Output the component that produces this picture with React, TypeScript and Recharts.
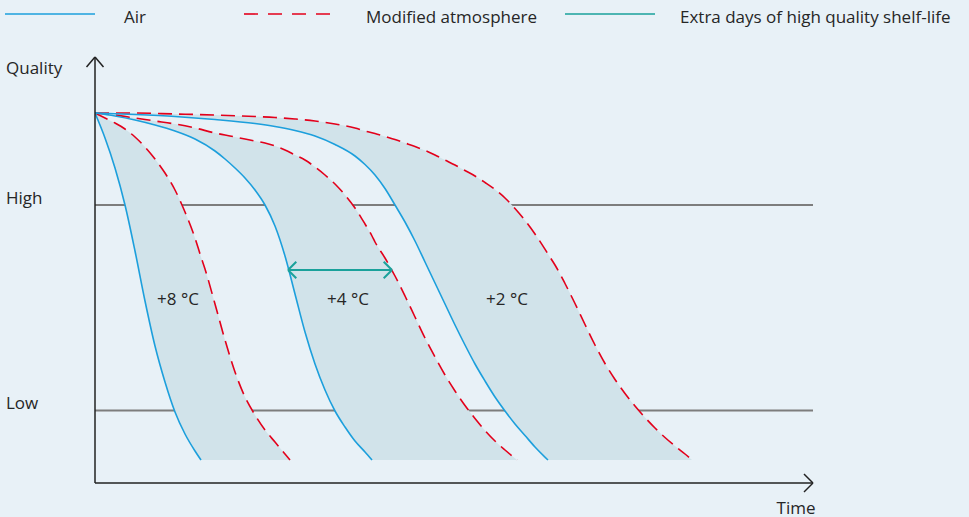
import {
  ComposedChart,
  Area,
  Line,
  XAxis,
  YAxis,
  CartesianGrid,
  ReferenceLine,
  ReferenceDot,
  Legend,
} from 'recharts';

// Axes in arbitrary units: time 0..71.8, quality 0..42.6
const TIME_MAX = 71.8;
const QUALITY_MAX = 42.6;
const BOTTOM = 2.3; // every curve stops at this quality
const QUALITY_TICKS = [7.25, 27.8];
const QUALITY_TICK_LABELS = ['Low', 'High'];

// +8 °C
const T8 = [0, 1, 2, 3, 4, 5, 6, 7, 8, 9, 10, 10.6, 11, 12, 13, 14, 15, 16, 17, 18, 19, 19.5];
const AIR8 = [37.0, 34.5, 31.5, 27.8, 23.2, 18.2, 13.7, 10.1, 7.1, 4.9, 3.2, 2.3,
  null, null, null, null, null, null, null, null, null, null];
const MA8 = [37.0, 36.5, 36.0, 35.4, 34.6, 33.6, 32.4, 31.0, 29.3, 27.1, 24.5, 22.6,
  21.4, 17.9, 14.3, 11.1, 8.6, 6.8, 5.3, 4.1, 2.9, 2.3];

// +4 °C
const T4 = [0, 2, 4, 6, 8, 10, 12, 13, 14, 15, 16, 17, 18, 19, 20, 21, 22, 23, 24, 25, 26, 27, 27.7,
  28, 29, 30, 31, 32, 33, 34, 35, 36, 37, 38, 39, 40, 41, 42.2];
const AIR4 = [37.0, 36.7, 36.3, 35.8, 35.2, 34.4, 33.2, 32.4, 31.5, 30.5, 29.3, 27.8, 25.7, 22.7,
  18.9, 15.1, 11.9, 9.3, 7.2, 5.6, 4.2, 3.1, 2.3,
  null, null, null, null, null, null, null, null, null, null, null, null, null, null, null];
const MA4 = [37.0, 36.8, 36.5, 36.2, 35.9, 35.5, 35.0, 34.8, 34.6, 34.4, 34.2, 34.0, 33.7, 33.3,
  32.8, 32.3, 31.6, 30.8, 29.9, 28.8, 27.5, 25.9, 24.7,
  24.1, 22.5, 20.7, 18.7, 16.6, 14.5, 12.6, 10.8, 9.2, 7.75, 6.45, 5.25, 4.2, 3.3, 2.3];

// +2 °C
const T2 = [0, 4, 8, 12, 16, 18, 20, 22, 24, 26, 27, 28, 29, 30, 31, 32, 33, 34, 35, 36, 37, 38,
  39, 40, 41, 42, 43, 44, 45.3, 46, 47, 48, 49, 50, 51, 52, 53, 54, 55, 56, 57, 58, 59, 59.7];
const AIR2 = [37.0, 36.85, 36.65, 36.35, 35.95, 35.65, 35.25, 34.7, 33.85, 32.7, 31.85, 30.8, 29.45,
  27.8, 26.1, 24.2, 22.1, 20.0, 17.9, 15.8, 13.8, 11.9, 10.2, 8.6, 7.2, 5.9, 4.75, 3.6, 2.3,
  null, null, null, null, null, null, null, null, null, null, null, null, null, null, null, null];
const MA2 = [37.0, 37.0, 36.9, 36.8, 36.65, 36.55, 36.4, 36.2, 35.9, 35.5, 35.2, 34.95, 34.65,
  34.35, 34.0, 33.65, 33.25, 32.8, 32.3, 31.8, 31.25, 30.7, 30.05, 29.35, 28.5, 27.45, 26.25, 24.9,
  22.9, 21.8, 19.95, 17.95, 15.85, 13.8, 11.95, 10.35, 8.95, 7.7, 6.55, 5.5, 4.55, 3.7, 2.9, 2.3];

const TEMPERATURES = ['+8 °C', '+4 °C', '+2 °C'];
const TEMP_LABEL_T = [8.3, 25.3, 41.2];
const TEMP_LABEL_Q = 18.5;

// extra days of high quality shelf-life at +4 °C
const EXTRA_FROM = 19.3;
const EXTRA_TO = 29.7;
const EXTRA_Q = 21.3;

const COLORS = {
  bg: '#e8f1f7',
  shade: '#d1e3ea',
  air: '#1c9fdc',
  ma: '#e3001b',
  extra: '#1aa19b',
  grid: '#7d7d7d',
  axis: '#222222',
  text: '#262626',
};

const FONT = '"Open Sans", sans-serif';
const FONT_SIZE = 17;

type Row = { t: number; air: number | null; ma: number };

function buildRows(t: number[], air: (number | null)[], ma: number[]): Row[] {
  return t.map((x, i) => ({ t: x, air: air[i], ma: ma[i] }));
}

const SERIES = [
  buildRows(T8, AIR8, MA8),
  buildRows(T4, AIR4, MA4),
  buildRows(T2, AIR2, MA2),
];

// shaded band: from the Air curve (or the bottom once it ends) up to the MA curve
const band = (row: Row) => [row.air ?? BOTTOM, row.ma];

function segment(key: string, a: [number, number], b: [number, number], stroke: string, width: number) {
  return (
    <ReferenceLine
      key={key}
      segment={[{ x: a[0], y: a[1] }, { x: b[0], y: b[1] }]}
      stroke={stroke}
      strokeWidth={width}
      ifOverflow="visible"
    />
  );
}

function textAt(key: string, t: number, q: number, value: string, anchor: 'start' | 'middle' = 'middle') {
  return (
    <ReferenceDot
      key={key}
      x={t}
      y={q}
      r={0}
      ifOverflow="visible"
      shape={(p: any) => (
        <text
          x={p.cx}
          y={p.cy}
          textAnchor={anchor}
          dominantBaseline="central"
          fill={COLORS.text}
          fontFamily={FONT}
          fontSize={FONT_SIZE}
        >
          {value}
        </text>
      )}
    />
  );
}

function QualityTick({ y, payload }: any) {
  const i = QUALITY_TICKS.indexOf(payload.value);
  return (
    <text
      x={6}
      y={y - 8}
      textAnchor="start"
      dominantBaseline="central"
      fill={COLORS.text}
      fontFamily={FONT}
      fontSize={FONT_SIZE}
    >
      {QUALITY_TICK_LABELS[i]}
    </text>
  );
}

function LegendRow() {
  const txt = { fill: COLORS.text, fontFamily: FONT, fontSize: FONT_SIZE, dominantBaseline: 'central' as const };
  return (
    <svg width={969} height={32}>
      <line x1={5} x2={95} y1={14} y2={14} stroke={COLORS.air} strokeWidth={1.6} />
      <text x={124} y={16} {...txt}>Air</text>
      <line x1={244} x2={333} y1={14} y2={14} stroke={COLORS.ma} strokeWidth={1.6} strokeDasharray="14 10" />
      <text x={366} y={16} {...txt}>Modified atmosphere</text>
      <line x1={565} x2={655} y1={14} y2={14} stroke={COLORS.extra} strokeWidth={1.6} />
      <text x={680} y={16} {...txt}>Extra days of high quality shelf-life</text>
    </svg>
  );
}

export default function App() {
  return (
    <div style={{ width: 969, height: 517, background: COLORS.bg, fontFamily: FONT }}>
      <style>{'body{margin:0}'}</style>
      <ComposedChart width={969} height={517} margin={{ top: 57, right: 156, bottom: 0, left: 0 }}>
        <CartesianGrid vertical={false} syncWithTicks stroke={COLORS.grid} strokeWidth={2} />
        <XAxis
          type="number"
          dataKey="t"
          domain={[0, TIME_MAX]}
          allowDataOverflow
          tick={false}
          tickLine={false}
          height={34}
          axisLine={{ stroke: COLORS.axis, strokeWidth: 1.5 }}
        />
        <YAxis
          type="number"
          domain={[0, QUALITY_MAX]}
          allowDataOverflow
          ticks={QUALITY_TICKS}
          tick={<QualityTick />}
          tickLine={false}
          width={95}
          axisLine={{ stroke: COLORS.axis, strokeWidth: 1.5 }}
        />
        <Legend
          layout="vertical"
          verticalAlign="middle"
          align="center"
          wrapperStyle={{ top: 0, left: 0, width: 969 }}
          content={() => <LegendRow />}
        />

        {SERIES.map((rows, i) => (
          <Area
            key={`band-${i}`}
            data={rows}
            dataKey={band}
            type="monotone"
            stroke="none"
            fill={COLORS.shade}
            fillOpacity={1}
            isAnimationActive={false}
            legendType="none"
          />
        ))}
        {SERIES.map((rows, i) => (
          <Line
            key={`ma-${i}`}
            data={rows}
            dataKey="ma"
            type="monotone"
            stroke={COLORS.ma}
            strokeWidth={1.6}
            strokeDasharray="14 7"
            dot={false}
            activeDot={false}
            isAnimationActive={false}
            legendType="none"
          />
        ))}
        {SERIES.map((rows, i) => (
          <Line
            key={`air-${i}`}
            data={rows}
            dataKey="air"
            type="monotone"
            stroke={COLORS.air}
            strokeWidth={1.6}
            dot={false}
            activeDot={false}
            isAnimationActive={false}
            legendType="none"
          />
        ))}

        {/* extra days arrow */}
        {segment('extra', [EXTRA_FROM, EXTRA_Q], [EXTRA_TO, EXTRA_Q], COLORS.extra, 2)}
        {segment('extra-l1', [EXTRA_FROM, EXTRA_Q], [EXTRA_FROM + 0.83, EXTRA_Q + 0.83], COLORS.extra, 2)}
        {segment('extra-l2', [EXTRA_FROM, EXTRA_Q], [EXTRA_FROM + 0.83, EXTRA_Q - 0.83], COLORS.extra, 2)}
        {segment('extra-r1', [EXTRA_TO, EXTRA_Q], [EXTRA_TO - 0.83, EXTRA_Q + 0.83], COLORS.extra, 2)}
        {segment('extra-r2', [EXTRA_TO, EXTRA_Q], [EXTRA_TO - 0.83, EXTRA_Q - 0.83], COLORS.extra, 2)}

        {/* axis arrowheads */}
        {segment('y-l', [0, QUALITY_MAX], [-0.85, QUALITY_MAX - 1.0], COLORS.axis, 1.5)}
        {segment('y-r', [0, QUALITY_MAX], [0.85, QUALITY_MAX - 1.0], COLORS.axis, 1.5)}
        {segment('x-u', [TIME_MAX, 0], [TIME_MAX - 0.9, 0.9], COLORS.axis, 1.5)}
        {segment('x-d', [TIME_MAX, 0], [TIME_MAX - 0.9, -0.9], COLORS.axis, 1.5)}

        {TEMPERATURES.map((label, i) => textAt(`temp-${i}`, TEMP_LABEL_T[i], TEMP_LABEL_Q, label))}
        {textAt('quality', -8.9, 41.6, 'Quality', 'start')}
        {textAt('time', 70.1, -2.4, 'Time')}
      </ComposedChart>
    </div>
  );
}
